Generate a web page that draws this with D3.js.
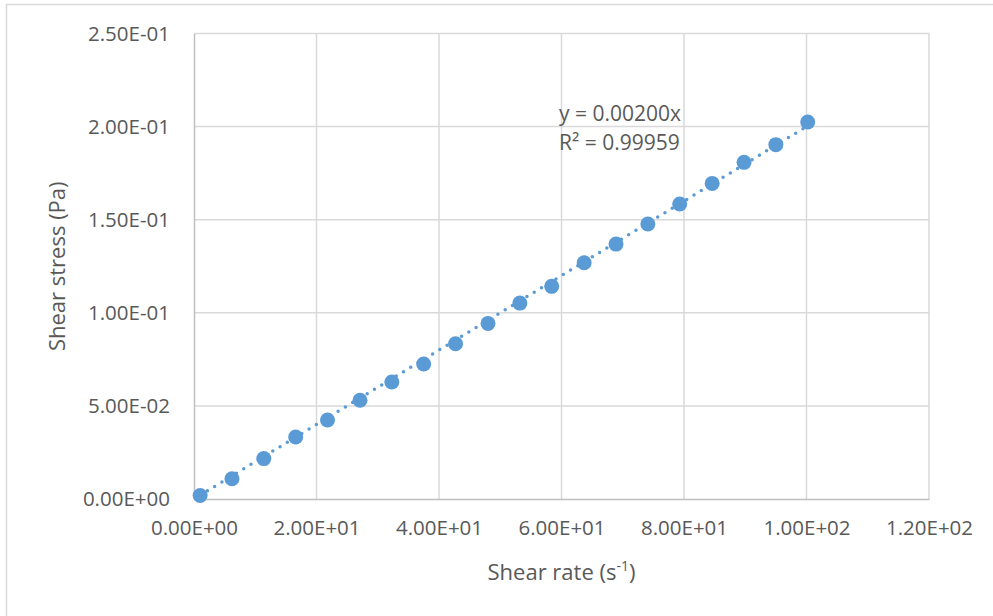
<!DOCTYPE html>
<html>
<head>
<meta charset="utf-8">
<script src="https://cdn.jsdelivr.net/npm/d3@7"></script>
<style>
  html, body { margin: 0; padding: 0; background: #fff; }
  svg { display: block; font-family: "Open Sans", sans-serif; }
</style>
</head>
<body>
<div class="chart"></div>
<script>
// values
const shearRate = [1.0, 6.2, 11.4, 16.6, 21.8, 27.1, 32.3, 37.5, 42.7, 48.0,
                   53.2, 58.4, 63.7, 68.9, 74.1, 79.3, 84.6, 89.8, 95.0, 100.2];
const shearStress = [0.0019, 0.0109, 0.0217, 0.0333, 0.0424, 0.0530, 0.0628, 0.0725, 0.0834, 0.0943,
                     0.1052, 0.1142, 0.1269, 0.1369, 0.1477, 0.1584, 0.1695, 0.1808, 0.1903, 0.2025];
const xTicks = [0, 20, 40, 60, 80, 100, 120];
const yTicks = [0, 0.05, 0.10, 0.15, 0.20, 0.25];
const slope = 0.00200;
const rSquared = "0.99959";

const width = 993;
const height = 616;
const margin = {top: 33.5, right: 64, bottom: 117, left: 194};

const blue = "#5b9bd5";
const textColor = "#595959";

const points = shearRate.map((x, i) => ({x: x, y: shearStress[i]}));

// Excel style 0.00E+00
function sci(v) {
  let s = v.toExponential(2).toUpperCase();
  let [m, e] = s.split("E");
  let sign = e[0] === "-" ? "-" : "+";
  let digits = e.replace(/[+-]/, "").padStart(2, "0");
  return m + "E" + sign + digits;
}

const svg = d3.select(".chart")
  .append("svg")
    .attr("width", width)
    .attr("height", height);

// chart border
svg.append("rect")
  .attr("x", 6.5)
  .attr("y", 4.5)
  .attr("width", width + 20)
  .attr("height", height + 20)
  .attr("fill", "none")
  .attr("stroke", "#d9d9d9")
  .attr("stroke-width", 1.5);

const x = d3.scaleLinear()
  .domain([0, 120])
  .range([margin.left, width - margin.right]);

const y = d3.scaleLinear()
  .domain([0, 0.25])
  .range([height - margin.bottom, margin.top]);

// gridlines
svg.append("g")
  .selectAll("line")
  .data(xTicks.slice(1))
  .enter()
  .append("line")
  .attr("x1", d => x(d))
  .attr("x2", d => x(d))
  .attr("y1", y(0))
  .attr("y2", y(0.25))
  .attr("stroke", "#d9d9d9")
  .attr("stroke-width", 1.5);

svg.append("g")
  .selectAll("line")
  .data(yTicks.slice(1))
  .enter()
  .append("line")
  .attr("x1", x(0))
  .attr("x2", x(120))
  .attr("y1", d => y(d))
  .attr("y2", d => y(d))
  .attr("stroke", "#d9d9d9")
  .attr("stroke-width", 1.5);

// axes
const xAxis = svg.append("g")
  .attr("transform", "translate(0," + y(0) + ")")
  .call(d3.axisBottom(x).tickValues(xTicks).tickFormat(sci).tickSize(0).tickPadding(21));

const yAxis = svg.append("g")
  .attr("transform", "translate(" + x(0) + ",0)")
  .call(d3.axisLeft(y).tickValues(yTicks).tickFormat(sci).tickSize(0).tickPadding(24));

[xAxis, yAxis].forEach(a => {
  a.select(".domain").attr("stroke", "#bfbfbf").attr("stroke-width", 1.5);
  a.selectAll("text")
    .attr("fill", textColor)
    .style("font-size", "20.5px")
    .style("font-family", "'Open Sans', sans-serif");
});

// trendline through origin
const trend = [d3.min(shearRate), d3.max(shearRate)].map(v => ({x: v, y: slope * v}));
svg.append("path")
  .datum(trend)
  .attr("d", d3.line().x(d => x(d.x)).y(d => y(d.y)))
  .attr("fill", "none")
  .attr("stroke", blue)
  .attr("stroke-width", 3.5)
  .attr("stroke-linecap", "round")
  .attr("stroke-dasharray", "0 8.5");

// markers
svg.append("g")
  .selectAll("circle")
  .data(points)
  .enter()
  .append("circle")
  .attr("cx", d => x(d.x))
  .attr("cy", d => y(d.y))
  .attr("r", 7.5)
  .attr("fill", blue);

// equation label
const eq = svg.append("text")
  .attr("x", 559)
  .attr("y", 121)
  .attr("fill", textColor)
  .style("font-size", "21px");
eq.append("tspan").attr("x", 559).text("y = " + slope.toFixed(5) + "x");
eq.append("tspan").attr("x", 559).attr("dy", 29).text("R\u00b2 = " + rSquared);

// axis titles
const xTitle = svg.append("text")
  .attr("x", (x(0) + x(120)) / 2)
  .attr("y", 580)
  .attr("text-anchor", "middle")
  .attr("fill", textColor)
  .style("font-size", "22px");
xTitle.append("tspan").text("Shear rate (s");
xTitle.append("tspan").attr("dy", -9).style("font-size", "14px").text("-1");
xTitle.append("tspan").attr("dy", 9).text(")");

svg.append("text")
  .attr("transform", "translate(65," + (y(0) + y(0.25)) / 2 + ") rotate(-90)")
  .attr("text-anchor", "middle")
  .attr("fill", textColor)
  .style("font-size", "22px")
  .text("Shear stress (Pa)");
</script>
</body>
</html>
